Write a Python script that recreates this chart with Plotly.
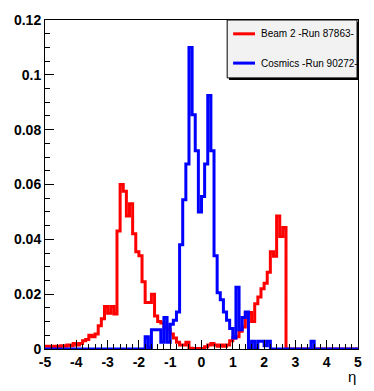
import numpy as np
import plotly.graph_objects as go

# eta binning: 100 bins of width 0.1 between -5 and 5
eta_edges = np.round(np.linspace(-5, 5, 101), 2)

series_names = ["Beam 2 -Run 87863-", "Cosmics -Run 90272-"]
series_colors = ["#ff0000", "#0000ff"]

# normalised counts per bin, one row = 1 unit of eta
beam2 = [
    0.0010, 0.0010, 0.0005, 0.0010, 0.0008, 0.0012, 0.0010, 0.0015, 0.0012, 0.0020,
    0.0015, 0.0020, 0.0030, 0.0035, 0.0050, 0.0045, 0.0055, 0.0085, 0.0110, 0.0155,
    0.0130, 0.0155, 0.0128, 0.0430, 0.0600, 0.0575, 0.0485, 0.0530, 0.0420, 0.0355,
    0.0340, 0.0245, 0.0170, 0.0170, 0.0200, 0.0120, 0.0100, 0.0095, 0.0080, 0.0070,
    0.0055, 0.0040, 0.0025, 0.0015, 0.0015, 0.0025, 0.0003, 0.0002, 0.0002, 0.0002,
    0.0002, 0.0008, 0.0015, 0.0020, 0.0015, 0.0010, 0.0015, 0.0010, 0.0015, 0.0030,
    0.0040, 0.0045, 0.0065, 0.0080, 0.0133, 0.0133, 0.0100, 0.0165, 0.0190, 0.0220,
    0.0240, 0.0280, 0.0355, 0.0338, 0.0485, 0.0410, 0.0443, 0.0, 0.0, 0.0,
    0.0, 0.0, 0.0, 0.0, 0.0, 0.0, 0.0, 0.0, 0.0, 0.0,
    0.0, 0.0, 0.0, 0.0, 0.0, 0.0, 0.0, 0.0, 0.0, 0.0,
]

cosmics = [
    0.0, 0.0, 0.0, 0.0, 0.0, 0.0, 0.0, 0.0, 0.0, 0.0,
    0.0, 0.0, 0.0, 0.0, 0.0, 0.0, 0.0, 0.0, 0.0, 0.0,
    0.0, 0.0, 0.0, 0.0, 0.0, 0.0, 0.0, 0.0, 0.0, 0.0,
    0.0, 0.0, 0.0045, 0.0005, 0.0070, 0.0070, 0.0070, 0.0025, 0.0115, 0.0025,
    0.0090, 0.0105, 0.0135, 0.0380, 0.0544, 0.0675, 0.1100, 0.0854, 0.0723, 0.0500,
    0.0556, 0.0675, 0.0925, 0.0723, 0.0340, 0.0205, 0.0180, 0.0135, 0.0105, 0.0075,
    0.0040, 0.0225, 0.0070, 0.0115, 0.0135, 0.0, 0.0028, 0.0, 0.0028, 0.0028,
    0.0012, 0.0028, 0.0, 0.0, 0.0, 0.0, 0.0, 0.0, 0.0, 0.0,
    0.0, 0.0, 0.0, 0.0, 0.0, 0.0028, 0.0, 0.0, 0.0, 0.0,
    0.0, 0.0, 0.0, 0.0, 0.0, 0.0, 0.0, 0.0, 0.0, 0.0,
]

x_ticks = [-5, -4, -3, -2, -1, 0, 1, 2, 3, 4, 5]
x_ticklabels = ["-5", "-4", "-3", "-2", "-1", "0", "1", "2", "3", "4", "5"]

fig = go.Figure()
for name, vals, col in zip(series_names, [beam2, cosmics], series_colors):
    fig.add_trace(go.Scatter(
        x=eta_edges,
        y=list(vals) + [vals[-1]],
        mode="lines",
        line=dict(color=col, width=3, shape="hv"),
        name=name,
        showlegend=False,
    ))

# bold helvetica-like tick labels
tick_font = dict(family="Liberation Sans, Arial", size=14, color="black", weight="bold")

fig.update_xaxes(
    range=[-5, 5],
    tickmode="array",
    tickvals=x_ticks,
    ticktext=x_ticklabels,
    ticks="inside",
    ticklen=9,
    tickcolor="black",
    tickfont=tick_font,
    showline=True,
    linecolor="black",
    linewidth=1,
    mirror=True,
    showgrid=False,
    zeroline=False,
    minor=dict(dtick=0.2, ticks="inside", ticklen=5, tickcolor="black", showgrid=False),
)
fig.update_yaxes(
    range=[0, 0.12],
    dtick=0.02,
    ticks="inside",
    ticklen=9,
    tickcolor="black",
    tickfont=tick_font,
    showline=True,
    linecolor="black",
    linewidth=1,
    mirror=True,
    showgrid=False,
    zeroline=False,
    minor=dict(dtick=0.005, ticks="inside", ticklen=5, tickcolor="black", showgrid=False),
)

# ROOT style legend box (drawn by hand)
lx0, lx1, ly0, ly1 = 0.582, 0.997, 0.824, 1.0
shapes = [
    dict(type="rect", xref="paper", yref="paper", x0=lx0 + 0.006, x1=lx1 + 0.006,
         y0=ly0 - 0.006, y1=ly1 - 0.006, fillcolor="black", line=dict(width=0), layer="above"),
    dict(type="rect", xref="paper", yref="paper", x0=lx0, x1=lx1, y0=ly0, y1=ly1,
         fillcolor="#f2f2f2", line=dict(color="black", width=1), layer="above"),
]
annotations = []
for i, (name, col) in enumerate(zip(series_names, series_colors)):
    yy = 0.958 - i * 0.089
    shapes.append(dict(type="line", xref="paper", yref="paper", x0=0.601, x1=0.671,
                       y0=yy, y1=yy, line=dict(color=col, width=3), layer="above"))
    annotations.append(dict(xref="paper", yref="paper", x=0.684, y=yy, text=name,
                            showarrow=False, xanchor="left", yanchor="middle",
                            font=dict(family="Liberation Sans, Arial", size=10, color="black")))

annotations.append(dict(xref="paper", yref="paper", x=1.0, y=0, yshift=-27, text="η",
                        showarrow=False, xanchor="right", yanchor="middle",
                        font=dict(family="Liberation Sans, Arial", size=15, color="black")))

fig.update_layout(
    width=374,
    height=391,
    margin=dict(l=45, r=13, t=13, b=42),
    font=dict(family="Liberation Sans, Arial"),
    plot_bgcolor="white",
    paper_bgcolor="white",
    shapes=shapes,
    annotations=annotations,
    showlegend=False,
)

# page body has a default 8px margin, drop it so the figure fills the window
fig.write_html("out.html", config={"displayModeBar": False},
               post_script="document.body.style.margin='0';")
